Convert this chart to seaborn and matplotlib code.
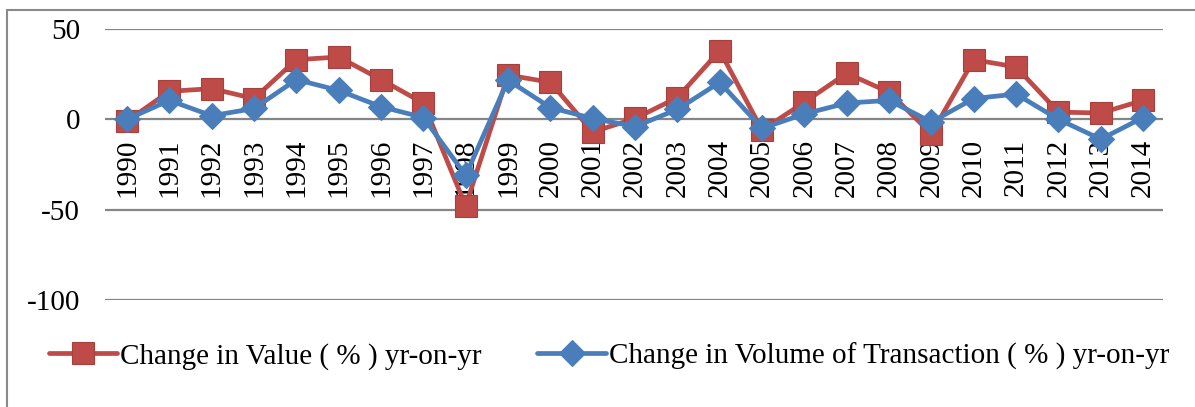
import matplotlib
matplotlib.use("Agg")
import matplotlib.pyplot as plt
import seaborn as sns
import pandas as pd
from matplotlib.patches import Rectangle

years = list(range(1990, 2015))
value_change = [-1, 15.5, 17, 11.5, 33, 34.5, 22, 9, -48, 24.5, 20.5, -7, 0.5, 12, 38,
                -6, 9.5, 25.5, 15, -8, 33, 29, 4, 3.5, 10.5]
volume_change = [0, 10.5, 2, 6, 22, 16, 7, 1, -31, 21.7, 6.5, 0.5, -4, 5.5, 20.5,
                 -5, 3, 9, 10.5, -1.5, 11.5, 14, 0, -11, 1]
label_value = "Change in Value ( % ) yr-on-yr"
label_volume = "Change in Volume of Transaction ( % ) yr-on-yr"
yticks = [-100, -50, 0, 50]

sns.set_theme(style="white")
plt.rcParams['font.family'] = ['Liberation Serif', 'DejaVu Serif']
plt.rcParams['text.color'] = 'black'
plt.rcParams['xtick.color'] = 'black'
plt.rcParams['ytick.color'] = 'black'

fig = plt.figure(figsize=(11.95, 4.07), dpi=100)
ax = fig.add_axes([105/1195, 1-300/407, (1163-105)/1195, (300-29)/407])

red = "#BE4B48"
blue = "#4A7EBB"

df_v = pd.DataFrame({"year": years, "val": value_change})
df_q = pd.DataFrame({"year": years, "val": volume_change})

sns.lineplot(data=df_v, x="year", y="val", ax=ax, color=red, linewidth=3.4,
             marker="s", markersize=15.5, markeredgecolor="#A5403D", markeredgewidth=0.8,
             label=label_value, zorder=3)
sns.lineplot(data=df_q, x="year", y="val", ax=ax, color=blue, linewidth=3.4,
             marker="D", markersize=13, markeredgecolor=blue, markeredgewidth=0.8,
             label=label_volume, zorder=4)

ax.set_xlim(1989.48, 2014.47)
ax.set_ylim(-100, 50)
ax.set_yticks(yticks)
ax.set_yticklabels([str(t) for t in yticks], fontsize=21)
ax.yaxis.grid(True, color="#858585", linewidth=1.6)
ax.xaxis.grid(False)
for s in ["top", "right", "left"]:
    ax.spines[s].set_visible(False)
ax.spines["bottom"].set_position(("data", 0))
ax.spines["bottom"].set_visible(False)
ax.set_xticks(years)
ax.set_xticklabels([str(y) for y in years], rotation=90, fontsize=21)
ax.tick_params(axis="x", length=0, pad=14)
ax.tick_params(axis="y", length=0, pad=18)
ax.set_xlabel("")
ax.set_ylabel("")

ax.legend_.remove()
h, l = ax.get_legend_handles_labels()
fig.legend(h, l, loc="center", bbox_to_anchor=(609/1195, 1-356/407), ncol=2,
           frameon=False, fontsize=21, handlelength=2.35, handletextpad=0.1,
           columnspacing=1.9, borderaxespad=0)

fig.add_artist(Rectangle((7/1195, -0.2), 1.2, 1.2 - 10/407, transform=fig.transFigure,
                         fill=False, edgecolor="#8a8a8a", linewidth=1.5))

fig.savefig("out.png", dpi=100)
